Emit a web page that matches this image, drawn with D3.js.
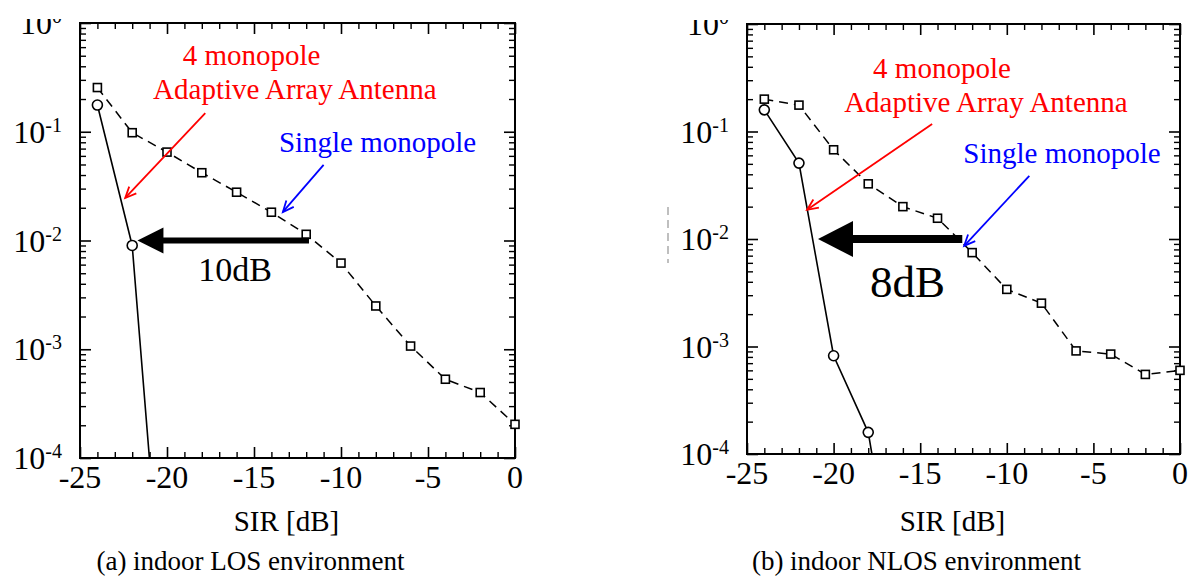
<!DOCTYPE html>
<html>
<head>
<meta charset="utf-8">
<script src="https://cdn.jsdelivr.net/npm/d3@7"></script>
<style>
  body { margin: 0; background: #fff; }
  svg text { font-family: "Liberation Serif", "Times New Roman", serif; }
</style>
</head>
<body>
<svg id="fig" width="1188" height="578"></svg>
<script>
// values
const sirTicks = [-25, -20, -15, -10, -5, 0];
const berDecades = [-4, -3, -2, -1, 0];

const sirSingle = [-24, -22, -20, -18, -16, -14, -12, -10, -8, -6, -4, -2, 0];
const singleLOS = [0.255, 0.098, 0.065, 0.042, 0.0278, 0.0182, 0.0114, 0.0062, 0.0025, 0.00107, 0.00053, 0.0004, 0.000204];
const singleNLOS = [0.2, 0.176, 0.0676, 0.0326, 0.02, 0.0156, 0.00747, 0.0034, 0.00253, 0.00091, 0.00085, 0.00055, 0.0006];

const sirArrayLOS = [-24, -22, -20];
const arrayLOS = [0.176, 0.009, 1e-6];
const sirArrayNLOS = [-24, -22, -20, -18, -16];
const arrayNLOS = [0.159, 0.0508, 0.00082, 0.000159, 2e-6];

const arrayLabel = ["4 monopole", "Adaptive Array Antenna"];
const singleLabel = "Single monopole";
const xTitle = "SIR [dB]";
const captions = ["(a) indoor LOS environment", "(b) indoor NLOS environment"];
const gainLabels = ["10dB", "8dB"];

// panel layout + annotation anchors (annotation anchors in data units)
const panels = [
  {
    id: "a", left: 80, right: 515, top: 23, bottom: 458,
    single: singleLOS, arrX: sirArrayLOS, arr: arrayLOS,
    caption: captions[0], gain: gainLabels[0],
    redText: [[-19.1, 0.409], [-20.8, 0.2]],
    redArrow: [[-17.8, 0.1485], [-22.4, 0.0246]],
    blueText: [-13.57, 0.065],
    blueArrow: [[-11.0, 0.0495], [-13.34, 0.0183]],
    gainArrow: [[-11.84, 0.01], [-21.7, 0.01]], shaft: 6, head: [26, 13],
    gainText: [-18.2, 0.0042], gainSize: 34
  },
  {
    id: "b", left: 747, right: 1180, top: 24, bottom: 454,
    single: singleNLOS, arrX: sirArrayNLOS, arr: arrayNLOS,
    caption: captions[1], gain: gainLabels[1],
    redText: [[-17.72, 0.316], [-19.39, 0.152]],
    redArrow: [[-14.31, 0.1177], [-21.53, 0.0187]],
    blueText: [-12.51, 0.0511],
    blueArrow: [[-8.7, 0.0387], [-12.46, 0.00865]],
    gainArrow: [[-12.57, 0.01], [-20.9, 0.01]], shaft: 8, head: [35, 18],
    gainText: [-17.9, 0.0029], gainSize: 45
  }
];

const svg = d3.select("#fig");

function drawPanel(p) {
  const x = d3.scaleLinear().domain([-25, 0]).range([p.left, p.right]);
  const y = d3.scaleLog().domain([1e-4, 1]).range([p.bottom, p.top]);
  const g = svg.append("g");

  // ticks (all inward, mirrored on every side)
  const minorX = d3.range(-25, 1).filter(d => d % 5 !== 0);
  const minorY = [];
  berDecades.slice(0, 4).forEach(e => { for (let m = 2; m <= 9; m++) minorY.push(m * Math.pow(10, e)); });
  const majorY = berDecades.map(e => Math.pow(10, e));

  const axes = [
    [d3.axisBottom(x), p.bottom, "x"], [d3.axisTop(x), p.top, "x"],
    [d3.axisLeft(y), p.left, "y"], [d3.axisRight(y), p.right, "y"]
  ];
  axes.forEach(([ax, pos, dir]) => {
    const tr = dir === "x" ? `translate(0,${pos})` : `translate(${pos},0)`;
    const maj = dir === "x" ? sirTicks : majorY;
    const min = dir === "x" ? minorX : minorY;
    g.append("g").attr("transform", tr)
      .call(ax.tickValues(maj).tickSize(-11).tickFormat(""))
      .call(s => s.select(".domain").remove())
      .selectAll("line").attr("stroke", "#000").attr("stroke-width", 1.6);
    g.append("g").attr("transform", tr)
      .call(ax.tickValues(min).tickSize(-6).tickFormat(""))
      .call(s => s.select(".domain").remove())
      .selectAll("line").attr("stroke", "#000").attr("stroke-width", 1.4);
  });

  g.append("rect")
    .attr("x", p.left).attr("y", p.top)
    .attr("width", p.right - p.left).attr("height", p.bottom - p.top)
    .attr("fill", "none").attr("stroke", "#000").attr("stroke-width", 2);

  // x tick labels
  g.selectAll(".xl").data(sirTicks).join("text")
    .attr("x", d => x(d)).attr("y", p.bottom + 30)
    .attr("text-anchor", "middle").attr("font-size", 32)
    .text(d => d);

  // y tick labels 10^n (top one is cut by the figure edge)
  const clipId = "yl" + p.id;
  svg.append("clipPath").attr("id", clipId)
    .append("rect").attr("x", 0).attr("y", p.top - 4).attr("width", 1188).attr("height", 578);
  const yl = g.append("g").attr("clip-path", `url(#${clipId})`);
  berDecades.forEach(e => {
    const t = yl.append("text")
      .attr("x", p.left - 18).attr("y", y(Math.pow(10, e)) + 11)
      .attr("text-anchor", "end").attr("font-size", 32);
    t.append("tspan").text("10");
    t.append("tspan").attr("dy", -11).attr("font-size", 20).text(e === 0 ? "0" : "-" + (-e));
  });

  // data
  const plotClip = "pc" + p.id;
  svg.append("clipPath").attr("id", plotClip)
    .append("rect").attr("x", p.left).attr("y", p.top)
    .attr("width", p.right - p.left).attr("height", p.bottom - p.top);

  const line = d3.line().x(d => x(d[0])).y(d => y(d[1]));
  const singlePts = sirSingle.map((s, i) => [s, p.single[i]]);
  const arrPts = p.arrX.map((s, i) => [s, p.arr[i]]);

  g.append("path").datum(singlePts)
    .attr("clip-path", `url(#${plotClip})`)
    .attr("d", line).attr("fill", "none").attr("stroke", "#000")
    .attr("stroke-width", 1.5).attr("stroke-dasharray", "9,6");
  g.append("path").datum(arrPts)
    .attr("clip-path", `url(#${plotClip})`)
    .attr("d", line).attr("fill", "none").attr("stroke", "#000")
    .attr("stroke-width", 1.6);

  g.selectAll(".sq").data(singlePts).join("rect")
    .attr("x", d => x(d[0]) - 4).attr("y", d => y(d[1]) - 4)
    .attr("width", 8).attr("height", 8)
    .attr("fill", "#fff").attr("stroke", "#000").attr("stroke-width", 1.6);
  g.selectAll(".ci").data(arrPts.filter(d => d[1] >= 1e-4)).join("circle")
    .attr("cx", d => x(d[0])).attr("cy", d => y(d[1])).attr("r", 5)
    .attr("fill", "#fff").attr("stroke", "#000").attr("stroke-width", 1.6);

  // annotations
  const px = d => [x(d[0]), y(d[1])];
  function arrow(from, to, color) {
    const [x1, y1] = px(from), [x2, y2] = px(to);
    const a = Math.atan2(y2 - y1, x2 - x1), L = 12, w = 0.42;
    g.append("line").attr("x1", x1).attr("y1", y1).attr("x2", x2).attr("y2", y2)
      .attr("stroke", color).attr("stroke-width", 1.8);
    g.append("path")
      .attr("d", `M${x2 - L * Math.cos(a - w)},${y2 - L * Math.sin(a - w)}L${x2},${y2}L${x2 - L * Math.cos(a + w)},${y2 - L * Math.sin(a + w)}`)
      .attr("fill", "none").attr("stroke", color).attr("stroke-width", 1.8);
  }

  p.redText.forEach((d, i) => {
    g.append("text").attr("x", x(d[0])).attr("y", y(d[1]))
      .attr("font-size", 29).attr("fill", "#f00").text(arrayLabel[i]);
  });
  arrow(p.redArrow[0], p.redArrow[1], "#f00");

  g.append("text").attr("x", x(p.blueText[0])).attr("y", y(p.blueText[1]))
    .attr("font-size", 29).attr("fill", "#00f").text(singleLabel);
  arrow(p.blueArrow[0], p.blueArrow[1], "#00f");

  // thick black arrow showing the gain
  const [sx, sy] = px(p.gainArrow[0]), [tx] = px(p.gainArrow[1]);
  const [hl, hw] = p.head;
  g.append("line").attr("x1", sx).attr("y1", sy).attr("x2", tx + hl - 2).attr("y2", sy)
    .attr("stroke", "#000").attr("stroke-width", p.shaft);
  g.append("path")
    .attr("d", `M${tx},${sy}L${tx + hl},${sy - hw}L${tx + hl},${sy + hw}Z`)
    .attr("fill", "#000");
  g.append("text").attr("x", x(p.gainText[0])).attr("y", y(p.gainText[1]))
    .attr("font-size", p.gainSize).text(p.gain);

  // titles
  const mid = (p.left + p.right) / 2;
  g.append("text").attr("x", mid - 11).attr("y", 531)
    .attr("text-anchor", "middle").attr("font-size", 29).text(xTitle);
  g.append("text").attr("x", mid - 47).attr("y", 570)
    .attr("text-anchor", "middle").attr("font-size", 27).text(p.caption);
}

panels.forEach(drawPanel);

// stray dashed mark left of panel (b) in the source scan
svg.append("line").attr("x1", 668).attr("x2", 668).attr("y1", 207).attr("y2", 263)
  .attr("stroke", "#aaa").attr("stroke-width", 1.5).attr("stroke-dasharray", "8,5");
</script>
</body>
</html>
